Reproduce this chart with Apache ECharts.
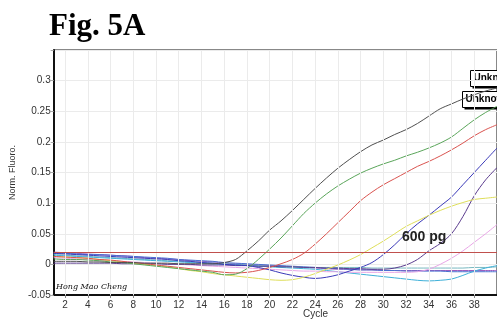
<!DOCTYPE html>
<html>
<head>
<meta charset="utf-8">
<script src="https://cdn.jsdelivr.net/npm/echarts@6/dist/echarts.min.js"></script>
<style>html,body{margin:0;padding:0;background:#fff;}#c{width:497px;height:320px;}</style>
</head>
<body>
<div id="c"></div>
<script>
const cycles = Array.from({length: 40}, (_, i) => i + 1);
const xTickLabels = [2,4,6,8,10,12,14,16,18,20,22,24,26,28,30,32,34,36,38];
const threshold = 0.021;

const grayCurve   = [0.005,0.005,0.005,0.004,0.004,0.003,0.003,0.003,0.002,0.002,0.002,0.001,0.001,0.001,0.001,0.003,0.008,0.022,0.038,0.056,0.071,0.088,0.106,0.124,0.141,0.157,0.171,0.184,0.195,0.203,0.212,0.220,0.230,0.242,0.254,0.262,0.270,0.277,0.283,0.288];
const greenCurve  = [0.009,0.008,0.008,0.007,0.006,0.004,0.003,0.001,-0.001,-0.003,-0.005,-0.007,-0.009,-0.011,-0.013,-0.017,-0.016,-0.007,0.008,0.025,0.043,0.063,0.083,0.100,0.115,0.128,0.139,0.149,0.157,0.164,0.170,0.177,0.183,0.190,0.198,0.208,0.222,0.236,0.248,0.258];
const redCurve    = [0.013,0.012,0.011,0.010,0.008,0.007,0.005,0.003,0.001,-0.001,-0.003,-0.005,-0.007,-0.009,-0.011,-0.013,-0.014,-0.013,-0.010,-0.005,0.001,0.008,0.018,0.033,0.050,0.068,0.086,0.104,0.118,0.130,0.140,0.150,0.160,0.168,0.177,0.187,0.198,0.210,0.220,0.228];
const yellowCurve = [0.013,0.012,0.011,0.010,0.008,0.006,0.004,0.002,0.000,-0.002,-0.004,-0.007,-0.010,-0.012,-0.015,-0.017,-0.019,-0.021,-0.023,-0.025,-0.026,-0.025,-0.021,-0.015,-0.008,-0.001,0.007,0.016,0.027,0.038,0.050,0.062,0.071,0.080,0.088,0.095,0.101,0.106,0.108,0.110];
const navyCurve   = [0.018,0.017,0.016,0.015,0.014,0.013,0.012,0.011,0.010,0.009,0.008,0.006,0.005,0.003,0.002,0.000,-0.001,-0.002,-0.005,-0.009,-0.014,-0.018,-0.021,-0.023,-0.021,-0.017,-0.011,-0.005,0.003,0.016,0.032,0.050,0.066,0.080,0.095,0.110,0.130,0.150,0.170,0.190];
const purpleCurve = [0.002,0.002,0.002,0.002,0.002,0.002,0.001,0.001,0.001,0.001,0.000,0.000,0.000,-0.001,-0.001,-0.001,-0.002,-0.002,-0.003,-0.003,-0.004,-0.004,-0.005,-0.005,-0.006,-0.006,-0.007,-0.007,-0.008,-0.008,-0.006,-0.001,0.008,0.022,0.034,0.050,0.078,0.112,0.138,0.158];
const pinkCurve   = [0.011,0.010,0.009,0.008,0.007,0.006,0.005,0.004,0.003,0.002,0.001,0.000,-0.001,-0.002,-0.003,-0.004,-0.005,-0.006,-0.007,-0.008,-0.009,-0.010,-0.011,-0.011,-0.012,-0.012,-0.013,-0.013,-0.013,-0.013,-0.013,-0.013,-0.012,-0.008,0.000,0.010,0.022,0.036,0.050,0.065];
const cyanCurve   = [0.015,0.014,0.013,0.012,0.011,0.010,0.009,0.008,0.007,0.006,0.005,0.004,0.003,0.002,0.001,0.000,-0.001,-0.002,-0.003,-0.004,-0.005,-0.006,-0.007,-0.008,-0.010,-0.012,-0.014,-0.016,-0.018,-0.020,-0.022,-0.024,-0.026,-0.027,-0.026,-0.024,-0.018,-0.011,-0.006,-0.002];
const tealCurve   = [0.016,0.015,0.014,0.013,0.012,0.011,0.010,0.009,0.008,0.007,0.006,0.005,0.004,0.003,0.002,0.001,0.000,-0.001,-0.002,-0.003,-0.004,-0.004,-0.005,-0.005,-0.005,-0.005,-0.005,-0.005,-0.006,-0.006,-0.006,-0.006,-0.006,-0.006,-0.006,-0.006,-0.006,-0.005,-0.005,-0.004];
const blueCurve   = [0.018,0.018,0.017,0.016,0.016,0.015,0.014,0.013,0.012,0.011,0.010,0.008,0.007,0.006,0.005,0.003,0.002,0.001,0.000,-0.001,-0.002,-0.003,-0.004,-0.005,-0.006,-0.007,-0.008,-0.009,-0.009,-0.010,-0.010,-0.011,-0.011,-0.011,-0.011,-0.012,-0.012,-0.012,-0.012,-0.012];
const violetCurve = [0.020,0.019,0.018,0.017,0.016,0.015,0.014,0.013,0.011,0.010,0.009,0.008,0.006,0.005,0.004,0.002,0.001,0.000,-0.001,-0.002,-0.003,-0.004,-0.005,-0.006,-0.007,-0.008,-0.008,-0.009,-0.009,-0.010,-0.010,-0.010,-0.010,-0.010,-0.010,-0.010,-0.010,-0.010,-0.010,-0.010];

const curves = [
  {name: 'violet', data: violetCurve, color: '#9b5fc0'},
  {name: 'blue',   data: blueCurve,   color: '#4a6fd0'},
  {name: 'teal',   data: tealCurve,   color: '#78b8c0'},
  {name: 'cyan',   data: cyanCurve,   color: '#3fb0d8'},
  {name: 'pink',   data: pinkCurve,   color: '#e8a6e6'},
  {name: 'purple', data: purpleCurve, color: '#5b3c8e'},
  {name: 'navy',   data: navyCurve,   color: '#3b3ab8'},
  {name: 'yellow', data: yellowCurve, color: '#dede5a'},
  {name: 'red',    data: redCurve,    color: '#d9534f'},
  {name: 'green',  data: greenCurve,  color: '#5aa55a'},
  {name: 'gray',   data: grayCurve,   color: '#505050'}
];

const chart = echarts.init(document.getElementById('c'), null, {renderer: 'canvas'});

const series = curves.map(c => ({
  name: c.name,
  type: 'line',
  data: cycles.map((x, i) => [x, c.data[i]]),
  showSymbol: false,
  smooth: 0.3,
  lineStyle: {width: 1, color: c.color},
  itemStyle: {color: c.color},
  silent: true,
  z: 3
}));

// vertical grid lines at the labelled cycles
series.push({
  name: 'vgrid',
  type: 'line',
  data: [],
  z: 1,
  markLine: {
    silent: true,
    symbol: 'none',
    label: {show: false},
    lineStyle: {color: '#ebebeb', width: 1, type: 'solid'},
    data: xTickLabels.map(v => ({xAxis: v}))
  }
});

series.push({
  name: 'threshold',
  type: 'line',
  data: [],
  markLine: {
    silent: true,
    symbol: 'none',
    label: {show: false},
    lineStyle: {color: '#c0504d', width: 1.2, type: 'solid'},
    data: [{yAxis: threshold}]
  },
  z: 4
});

function labelBox(left, top) {
  return {type: 'group', left: left, top: top, z: 20, children: [
    {type: 'rect', shape: {x: 2, y: 2, width: 70, height: 16}, style: {fill: '#000'}},
    {type: 'rect', shape: {x: 0, y: 0, width: 70, height: 16}, style: {fill: '#fff', stroke: '#000', lineWidth: 1}},
    {type: 'text', x: 3, y: 3, style: {text: 'Unknown', font: 'bold 10px "Liberation Sans"', fill: '#000'}}
  ]};
}

chart.setOption({
  animation: false,
  backgroundColor: '#fff',
  grid: {left: 52, top: 50, right: -28, bottom: 25, show: true, borderColor: '#111', borderWidth: 1, backgroundColor: 'transparent'},
  xAxis: {
    type: 'value', min: 1, max: 40,
    axisLine: {show: true, onZero: false, lineStyle: {color: '#111', width: 2}},
    axisTick: {show: true, length: 3, lineStyle: {color: '#888'}, customValues: xTickLabels},
    axisLabel: {fontSize: 10, color: '#333', fontFamily: 'Liberation Sans', margin: 5, customValues: xTickLabels},
    splitLine: {show: false}
  },
  yAxis: {
    type: 'value', min: -0.05, max: 0.35, interval: 0.05,
    name: 'Norm. Fluoro.', nameLocation: 'middle', nameGap: 34,
    nameTextStyle: {fontSize: 9, color: '#333', fontFamily: 'Liberation Sans'},
    axisLine: {show: true, onZero: false, lineStyle: {color: '#111', width: 2}},
    axisTick: {show: true, length: 3, lineStyle: {color: '#aaa'}},
    axisLabel: {fontSize: 10, color: '#333', fontFamily: 'Liberation Sans', margin: 3,
      formatter: v => (Math.abs(v - 0.35) < 1e-9 ? '' : String(Number(v.toFixed(2))))},
    splitLine: {show: true, lineStyle: {color: '#ebebeb', width: 1}}
  },
  series: series,
  graphic: [
    {type: 'text', left: 49, top: 11, z: 10,
      style: {text: 'Fig. 5A', font: 'bold 31px "Liberation Serif"', fill: '#000'}},
    {type: 'text', left: 402, top: 230, z: 10,
      style: {text: '600 pg', font: 'bold 14px "Liberation Sans"', fill: '#222'}},
    {type: 'text', left: 303, top: 309, z: 10,
      style: {text: 'Cycle', font: '10px "Liberation Sans"', fill: '#333'}},
    {type: 'text', left: 56, top: 283, z: 10,
      style: {text: 'Hong Mao Cheng', font: 'italic 8px "DejaVu Serif"', fill: '#111'}},
    labelBox(470, 70),
    labelBox(462, 91)
  ]
});
</script>
</body>
</html>
